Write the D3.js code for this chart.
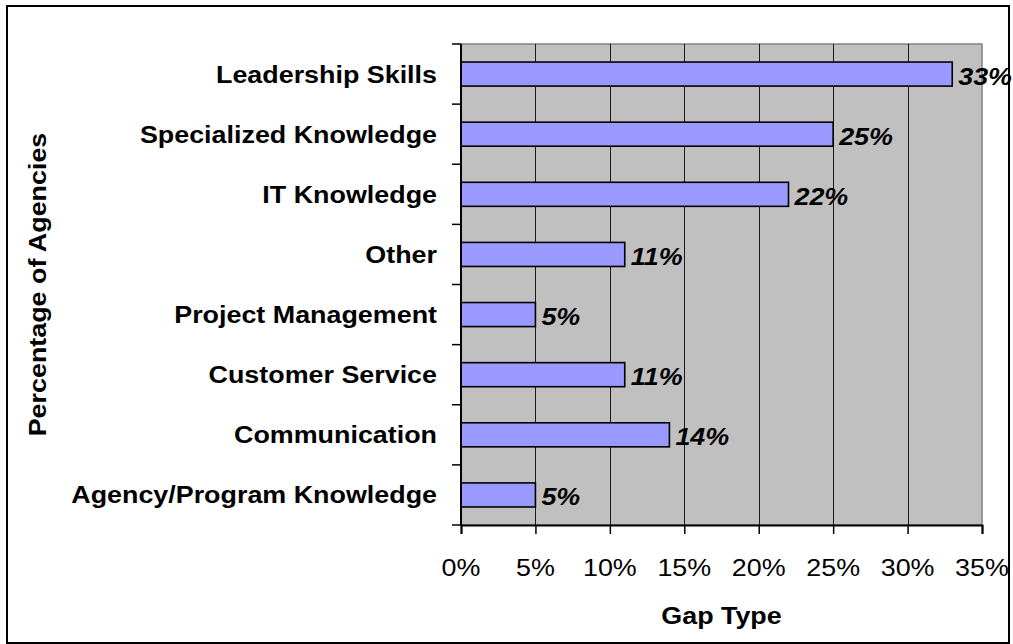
<!DOCTYPE html>
<html>
<head>
<meta charset="utf-8">
<script src="https://d3js.org/d3.v7.min.js"></script>
<style>
  html, body { margin: 0; padding: 0; background: #fff; }
  svg { display: block; }
  text { font-family: Arial, "Liberation Sans", sans-serif; }
</style>
</head>
<body>
<svg id="chart" width="1013" height="644"></svg>
<script>
const categories = ["Leadership Skills", "Specialized Knowledge", "IT Knowledge", "Other",
  "Project Management", "Customer Service", "Communication", "Agency/Program Knowledge"];
const values = [33, 25, 22, 11, 5, 11, 14, 5];
const xTicks = [0, 5, 10, 15, 20, 25, 30, 35];
const xTitle = "Gap Type";
const yTitle = "Percentage of Agencies";

const svg = d3.select("#chart");
const plot = { left: 461, top: 44, right: 982, bottom: 525 };
const FS = 24, SX = 1.12;

// outer frame
svg.append("rect").attr("x", 7).attr("y", 6).attr("width", 1002).attr("height", 637)
  .attr("fill", "#fff").attr("stroke", "#000").attr("stroke-width", 2);

const x = d3.scaleLinear().domain([0, 35]).range([plot.left, plot.right]);
const y = d3.scaleBand().domain(categories).range([plot.top, plot.bottom]).paddingInner(0.6).paddingOuter(0.3);

// plot background
svg.append("rect").attr("x", plot.left).attr("y", plot.top)
  .attr("width", plot.right - plot.left).attr("height", plot.bottom - plot.top)
  .attr("fill", "#C0C0C0").attr("stroke", "#808080").attr("stroke-width", 1.5);

// gridlines
svg.append("g").selectAll("line").data(xTicks.filter(d => d > 0 && d < 35)).join("line")
  .attr("x1", d => Math.round(x(d)) + 0.5).attr("x2", d => Math.round(x(d)) + 0.5)
  .attr("y1", plot.top).attr("y2", plot.bottom)
  .attr("stroke", "#1a1a1a").attr("stroke-width", 1);

// bars
svg.append("g").selectAll("rect").data(values).join("rect")
  .attr("x", x(0))
  .attr("y", (d, i) => y(categories[i]))
  .attr("width", d => x(d) - x(0))
  .attr("height", y.bandwidth())
  .attr("fill", "#9999FF").attr("stroke", "#000").attr("stroke-width", 1.6);

// helper: horizontally stretched text
function stext(g, tx, ty, anchor, rot) {
  return g.attr("transform", `translate(${tx},${ty})` + (rot ? ` rotate(${rot})` : "") + ` scale(${SX},1)`)
    .attr("text-anchor", anchor).attr("dominant-baseline", "central")
    .attr("font-size", FS).attr("fill", "#000");
}

// value labels
values.forEach((d, i) => {
  stext(svg.append("text"), x(d) + 6, y(categories[i]) + y.bandwidth() / 2 + 2, "start")
    .attr("font-weight", "bold").attr("font-style", "italic").text(d + "%");
});

// x axis
const xAxis = d3.axisBottom(x).tickValues(xTicks).tickFormat("").tickSize(9);
const gx = svg.append("g").attr("transform", `translate(0,${plot.bottom})`).call(xAxis);
gx.select(".domain").attr("stroke", "#000").attr("stroke-width", 2);
gx.selectAll(".tick line").attr("stroke", "#000").attr("stroke-width", 1.5);
xTicks.forEach(t => {
  stext(svg.append("text"), x(t), 568, "middle").text(t + "%");
});

// y axis: ticks at band boundaries
const boundaries = d3.range(categories.length + 1).map(i => plot.top + i * (plot.bottom - plot.top) / categories.length);
const gy = svg.append("g");
gy.append("line").attr("x1", plot.left).attr("x2", plot.left).attr("y1", plot.top).attr("y2", plot.bottom)
  .attr("stroke", "#000").attr("stroke-width", 2);
gy.selectAll("line.tk").data(boundaries).join("line").attr("class", "tk")
  .attr("x1", plot.left - 9).attr("x2", plot.left)
  .attr("y1", d => d).attr("y2", d => d)
  .attr("stroke", "#000").attr("stroke-width", 1.5);
categories.forEach(c => {
  stext(gy.append("text"), 437, y(c) + y.bandwidth() / 2, "end").attr("font-weight", "bold").text(c);
});

// axis titles
stext(svg.append("text"), (plot.left + plot.right) / 2, 616, "middle").attr("font-weight", "bold").text(xTitle);
stext(svg.append("text"), 38, (plot.top + plot.bottom) / 2, "middle", -90).attr("font-weight", "bold").text(yTitle);
</script>
</body>
</html>
